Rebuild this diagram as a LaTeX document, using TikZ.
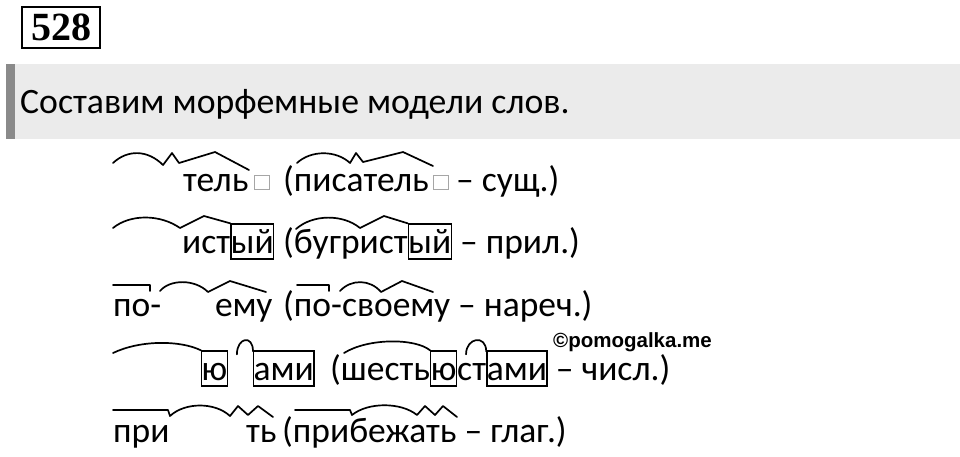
\documentclass[tikz,border=0pt]{standalone}
\usepackage{fontspec}
\setmainfont{Carlito}
\newfontfamily\numfont{Liberation Serif}
\newfontfamily\wmfont{Liberation Sans}
\usetikzlibrary{positioning}

\definecolor{bandgray}{HTML}{EBEBEB}
\definecolor{bargray}{HTML}{8A8A8A}
\definecolor{nullgray}{HTML}{A6A6A6}

\tikzset{
  part/.style={inner sep=0pt, text height=29pt, text depth=6pt, font=\fontsize{35.5}{42}\selectfont},
  ending/.style={part, draw, line width=1.3pt},
  nullend/.style={draw=nullgray, line width=1pt, minimum width=15pt, minimum height=14pt, inner sep=0pt, anchor=south west},
  morph/.style={line width=1.7pt, line join=round, line cap=round},
}

\begin{document}
\begin{tikzpicture}[x=1pt, y=-1pt]

    \useasboundingbox (0,0) rectangle (960,456);

    \node(num)[draw, line width=2.2pt, minimum width=78pt, minimum height=41pt, font=\numfont\bfseries\fontsize{40}{46}\selectfont] at (61,27.5) {528};

    \fill[bandgray] (6,64) rectangle (960,139);
    \fill[bargray] (6,64) rectangle (15,139);
    \node(task)[anchor=base west, inner sep=0pt, font=\fontsize{35.7}{43}\selectfont] at (20,113) {Составим морфемные модели слов.};

    % row 1
    \node(A1)[part, anchor=base west] at (183,191) {тель};
    \node(A2)[nullend] at ([shift={(5,-1)}]A1.base east) {};
    \node(A3)[part, anchor=base west] at (283,191) {(писатель};
    \node(A4)[nullend] at ([shift={(4,-1)}]A3.base east) {};
    \node(A5)[part, right=27pt of A3]{– сущ.)};

    \draw[morph] (113,163) .. controls (128,149) and (148,150) .. (163,165) -- (172,153) -- (179,163) -- (215,152) -- (249,170);
    \draw[morph] (297,163) .. controls (311,150) and (336,150) .. (350,163) -- (356,153) -- (363,162) -- (403,152) -- (433,166);

    % row 2
    \node(B1)[part, anchor=base west] at (182,253) {ист};
    \node(B2)[ending, right=0pt of B1]{ый};
    \node(B3)[part, anchor=base west] at (283,253) {(бугрист};
    \node(B4)[ending, right=0pt of B3]{ый};
    \node(B5)[part, right=0pt of B4]{\ – прил.)};

    \draw[morph] (113,228) .. controls (130,214) and (160,214) .. (180,228) -- (204,216) -- (B2.north west);
    \draw[morph] (296,229) .. controls (313,214) and (343,214) .. (360,228) -- (384,216) -- (B4.north west);

    % row 3
    \node(C1)[part, anchor=base west] at (113,316) {по-};
    \node(C2)[part, anchor=base west] at (215,316) {ему};
    \node(C3)[part, anchor=base west] at (283,316) {(по-своему – нареч.)};

    \draw[morph] (113,285) -- (150,285) -- (150,291);
    \draw[morph] (160,291) .. controls (170,279) and (195,279) .. (208,292) -- (230,281) -- (266,292);
    \draw[morph] (297,285) -- (329,285) -- (329,291);
    \draw[morph] (340,291) .. controls (351,279) and (370,279) .. (381,292) -- (402,281) -- (433,292);

    % row 4
    \node(D1)[ending, anchor=base west] at (201,380) {ю};
    \node(D2)[ending, anchor=base west] at (253,380) {ами};
    \node(D3)[part, anchor=base west] at (330,380) {(шесть};
    \node(D4)[ending, right=0pt of D3]{ю};
    \node(D5)[part, right=0pt of D4]{ст};
    \node(D6)[ending, right=0pt of D5]{ами};
    \node(D7)[part, right=0pt of D6]{\ – числ.)};

    \draw[morph] (113,353) .. controls (140,340) and (180,340) .. (D1.north west);
    \draw[morph] ([shift={(9,4)}]D1.north east) .. controls +(0,-17) and +(0,-17) .. ([shift={(0,1)}]D2.north west);
    \draw[morph] (344,353) .. controls (368,338) and (415,338) .. (D4.north west);
    \draw[morph] ([shift={(9,4)}]D4.north east) .. controls +(0,-17) and +(0,-17) .. ([shift={(0,1)}]D6.north west);

    % row 5
    \node(E1)[part, anchor=base west] at (113,442) {при};
    \node(E2)[part, anchor=base west] at (246,442) {ть};
    \node(E3)[part, anchor=base west] at (282,442) {(прибежать – глаг.)};

    \draw[morph] (113,410) -- (168,410) -- (170,416) .. controls (185,402) and (215,402) .. (230,416) -- (238,406) -- (248,415) -- (258,406) -- (273,417);
    \draw[morph] (295,410) -- (350,410) -- (352,415) .. controls (368,402) and (401,402) .. (417,415) -- (425,406) -- (435,415) -- (443,406) -- (457,417);

    \node(wm)[anchor=base west, inner sep=0pt, font=\wmfont\bfseries\fontsize{20.5}{24}\selectfont] at (553,347) {©pomogalka.me};

\end{tikzpicture}
\end{document}
